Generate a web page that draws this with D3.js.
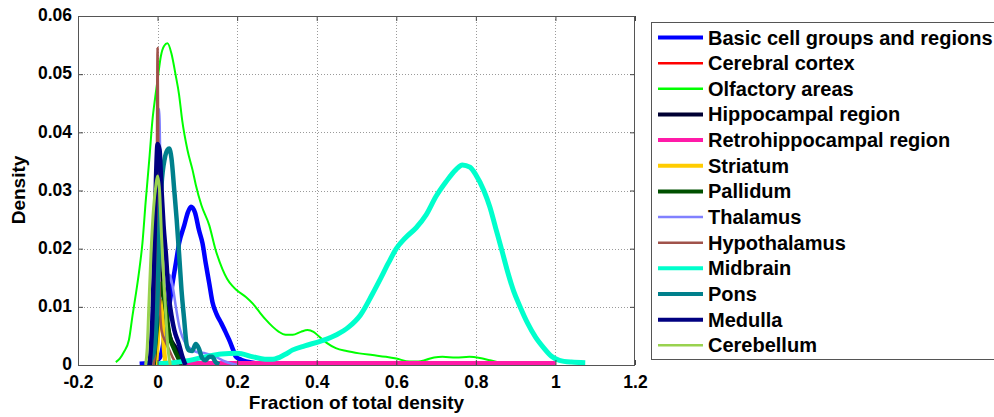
<!DOCTYPE html>
<html><head><meta charset="utf-8">
<script src="https://cdn.jsdelivr.net/npm/d3@7"></script>
<style>
html,body{margin:0;padding:0;background:#fff;}
text{font-family:"Liberation Sans",Arial,sans-serif;font-weight:bold;fill:#000;}
</style></head>
<body><svg id="c" width="994" height="417"></svg>
<script>
// ---- data ----
const seriesNames = ["Basic cell groups and regions","Cerebral cortex","Olfactory areas","Hippocampal region","Retrohippocampal region","Striatum","Pallidum","Thalamus","Hypothalamus","Midbrain","Pons","Medulla","Cerebellum"];
const seriesColors = ["#0000ff","#ff0000","#00ff00","#000033","#ff1aa8","#ffcc00","#005000","#8080ff","#a0524a","#00ffcc","#00808c","#000080","#99d24f"];
const seriesWidths = [4.5,2,2,4.5,4.5,4.5,4.5,2.5,2.5,5,4.5,4.5,3];

const xTicks = [-0.2,0,0.2,0.4,0.6,0.8,1,1.2];
const yTicks = [0,0.01,0.02,0.03,0.04,0.05,0.06];

const basicX = [-0.045,-0.025,-0.01,0.0,0.008,0.014,0.021,0.03,0.037,0.046,0.054,0.067,0.076,0.084,0.094,0.104,0.113,0.121,0.13,0.138,0.148,0.16,0.17,0.18,0.19,0.197,0.21,0.222,0.25,0.28,0.32];
const basicY = [0.0002,0.0003,0.0004,0.0008,0.0016,0.0035,0.0066,0.0105,0.0138,0.0175,0.0209,0.0240,0.0262,0.0272,0.0262,0.0232,0.0209,0.0175,0.0140,0.0108,0.0088,0.0072,0.0058,0.0043,0.0026,0.0014,0.0009,0.0006,0.0003,0.0002,0.0001];

const cortexX = [0.0,0.2,0.4,0.6,0.8,1.0];
const cortexY = [0.0003,0.0003,0.0003,0.0003,0.0003,0.0003];

const olfX = [-0.105,-0.095,-0.085,-0.072,-0.063,-0.055,-0.047,-0.038,-0.03,-0.02,-0.013,-0.006,0.0,0.008,0.016,0.025,0.035,0.045,0.054,0.062,0.075,0.088,0.096,0.11,0.13,0.145,0.163,0.175,0.188,0.2,0.222,0.24,0.255,0.272,0.289,0.305,0.322,0.34,0.36,0.377,0.392,0.406,0.425,0.448,0.475,0.507,0.54,0.574,0.6,0.633,0.655,0.675,0.695,0.716,0.75,0.784,0.81,0.835,0.86,0.875];
const olfY = [0.0005,0.0011,0.0022,0.0043,0.0085,0.0120,0.0158,0.021,0.028,0.036,0.042,0.046,0.049,0.053,0.0548,0.0553,0.0535,0.050,0.0465,0.042,0.037,0.0335,0.031,0.0275,0.0240,0.020,0.0165,0.0148,0.0136,0.0128,0.0117,0.0105,0.0092,0.0078,0.0066,0.0057,0.0052,0.0052,0.0057,0.0060,0.0057,0.0049,0.0038,0.0029,0.0024,0.0020,0.0017,0.0014,0.0011,0.0006,0.0006,0.0009,0.0013,0.0014,0.0013,0.0014,0.0012,0.0008,0.0004,0.0001];

const hippoX = [-0.015,-0.006,0.0,0.003,0.007,0.012,0.02,0.03,0.045,0.06,0.07];
const hippoY = [0.0,0.010,0.020,0.025,0.022,0.016,0.009,0.005,0.003,0.001,0.0];

const retroX = [0.0,0.2,0.4,0.6,0.8,1.0];
const retroY = [0.0003,0.0003,0.0003,0.0003,0.0003,0.0003];

const striX = [-0.004,0.0,0.004,0.008,0.012,0.016,0.02];
const striY = [0.0,0.004,0.009,0.011,0.008,0.003,0.0];

const palliX = [-0.01,0.0,0.01,0.02,0.03,0.04,0.05,0.06];
const palliY = [0.0,0.008,0.014,0.010,0.005,0.003,0.0015,0.0];

const thalX = [-0.01,-0.004,0.0,0.004,0.008,0.014,0.022,0.03,0.038,0.046,0.055,0.062,0.075,0.087,0.1,0.121,0.146,0.17,0.2];
const thalY = [0.0,0.010,0.035,0.044,0.030,0.016,0.0135,0.0155,0.0135,0.010,0.0065,0.0049,0.0033,0.0026,0.0022,0.0020,0.0014,0.0006,0.0];

const hypoX = [-0.01,-0.005,-0.002,0.0,0.002,0.005,0.01,0.02,0.03,0.04,0.05];
const hypoY = [0.0,0.004,0.030,0.0545,0.035,0.012,0.006,0.004,0.0025,0.001,0.0];

const midX = [0.0,0.04,0.08,0.12,0.16,0.2,0.24,0.27,0.29,0.32,0.34,0.37,0.41,0.45,0.48,0.51,0.54,0.56,0.58,0.6,0.625,0.65,0.675,0.7,0.725,0.75,0.766,0.785,0.8,0.82,0.835,0.85,0.865,0.88,0.895,0.91,0.93,0.95,0.97,0.99,1.01,1.04,1.075];
const midY = [0.0002,0.0004,0.0008,0.0014,0.0019,0.0020,0.0014,0.0010,0.0010,0.0018,0.0026,0.0033,0.0041,0.0052,0.0065,0.0086,0.0122,0.0148,0.0175,0.0200,0.0220,0.0236,0.0258,0.0290,0.0315,0.0336,0.0344,0.0340,0.0327,0.0300,0.0272,0.0235,0.0198,0.0160,0.0127,0.0102,0.0072,0.0048,0.0030,0.0015,0.0008,0.0005,0.0004];

const ponsX = [-0.025,-0.01,-0.004,0.0,0.005,0.01,0.018,0.025,0.029,0.035,0.042,0.048,0.054,0.06,0.067,0.073,0.079,0.087,0.096,0.104,0.112,0.12,0.13,0.137,0.146,0.155];
const ponsY = [0.0002,0.002,0.006,0.012,0.024,0.031,0.0355,0.037,0.0372,0.0355,0.030,0.025,0.0192,0.013,0.0077,0.0035,0.0025,0.0024,0.0036,0.0028,0.0012,0.0008,0.0014,0.0014,0.0005,0.0001];

const medX = [-0.02,-0.013,-0.008,-0.004,0.0,0.005,0.01,0.015,0.021,0.028,0.035,0.042,0.054,0.062,0.07];
const medY = [0.0,0.008,0.020,0.032,0.038,0.037,0.030,0.024,0.019,0.012,0.0085,0.006,0.0035,0.0015,0.0];

const cereX = [-0.03,-0.026,-0.022,-0.016,-0.01,-0.004,0.0,0.005,0.01,0.016,0.021,0.026,0.032];
const cereY = [0.0,0.003,0.010,0.020,0.027,0.031,0.0325,0.030,0.022,0.014,0.0083,0.003,0.0];

const seriesX = [basicX,cortexX,olfX,hippoX,retroX,striX,palliX,thalX,hypoX,midX,ponsX,medX,cereX];
const seriesY = [basicY,cortexY,olfY,hippoY,retroY,striY,palliY,thalY,hypoY,midY,ponsY,medY,cereY];

// ---- layout ----
const L = 78, R = 635, T = 16, B = 365;
const svg = d3.select("#c");
const x = d3.scaleLinear().domain([-0.2,1.2]).range([L,R]);
const y = d3.scaleLinear().domain([0,0.06]).range([B,T]);

svg.append("defs").append("clipPath").attr("id","clip")
  .append("rect").attr("x",L).attr("y",T).attr("width",R-L).attr("height",B-T);

// grid
const grid = svg.append("g");
grid.selectAll(".gx").data(xTicks.slice(1,-1)).join("line")
  .attr("x1",d=>Math.round(x(d))+0.5).attr("x2",d=>Math.round(x(d))+0.5)
  .attr("y1",T).attr("y2",B).attr("stroke","#9a9a9a").attr("stroke-width",1).attr("stroke-dasharray","1,2");
grid.selectAll(".gy").data(yTicks.slice(1,-1)).join("line")
  .attr("y1",d=>Math.round(y(d))+0.5).attr("y2",d=>Math.round(y(d))+0.5)
  .attr("x1",L).attr("x2",R).attr("stroke","#9a9a9a").attr("stroke-width",1).attr("stroke-dasharray","1,2");

// curves
const line = d3.line().x(d=>x(d[0])).y(d=>y(d[1])).curve(d3.curveMonotoneX);
const plot = svg.append("g").attr("clip-path","url(#clip)");
seriesNames.forEach((n,i)=>{
  const pts = seriesX[i].map((v,j)=>[v,seriesY[i][j]]);
  plot.append("path").datum(pts).attr("d",line).attr("fill","none")
    .attr("stroke",seriesColors[i]).attr("stroke-width",seriesWidths[i])
    .attr("stroke-linejoin","round").attr("stroke-linecap","butt");
});

// axes
const fmtX = d => String(d);
const fmtY = d => d===0 ? "0" : d3.format(".2f")(d);
const ax = svg.append("g");
ax.append("g").attr("transform",`translate(0,${B})`)
  .call(d3.axisBottom(x).tickValues(xTicks).tickFormat(fmtX).tickSizeInner(-5).tickSizeOuter(0).tickPadding(11))
  .call(g=>g.selectAll("text").attr("font-size","17.5px").attr("font-family","Liberation Sans, Arial, sans-serif").attr("font-weight","bold").attr("fill","#000"));
ax.append("g").attr("transform",`translate(${L},0)`)
  .call(d3.axisLeft(y).tickValues(yTicks).tickFormat(fmtY).tickSizeInner(-5).tickSizeOuter(0).tickPadding(6))
  .call(g=>g.selectAll("text").attr("font-size","17.5px").attr("dy","0.27em").attr("font-family","Liberation Sans, Arial, sans-serif").attr("font-weight","bold").attr("fill","#000"));
ax.append("g").attr("transform",`translate(0,${T})`)
  .call(d3.axisTop(x).tickValues(xTicks).tickFormat("").tickSizeInner(-5).tickSizeOuter(0));
ax.append("g").attr("transform",`translate(${R},0)`)
  .call(d3.axisRight(y).tickValues(yTicks).tickFormat("").tickSizeInner(-5).tickSizeOuter(0));
ax.selectAll(".domain").remove();
ax.selectAll(".tick line").attr("stroke","#444");
svg.append("rect").attr("x",L+0.5).attr("y",T+0.5).attr("width",R-L-1).attr("height",B-T)
  .attr("fill","none").attr("stroke","#555").attr("stroke-width",1);

// titles
svg.append("text").attr("x",(L+R)/2).attr("y",409).attr("text-anchor","middle").attr("font-size","19px").text("Fraction of total density");
svg.append("text").attr("transform","translate(25,190) rotate(-90)").attr("text-anchor","middle").attr("font-size","19px").text("Density");

// legend
const lg = svg.append("g");
lg.append("rect").attr("x",651.5).attr("y",22.5).attr("width",360).attr("height",337)
  .attr("fill","#fff").attr("stroke","#555").attr("stroke-width",1);
seriesNames.forEach((n,i)=>{
  const cy = 37.5 + i*25.65;
  lg.append("line").attr("x1",658).attr("x2",703).attr("y1",cy).attr("y2",cy)
    .attr("stroke",seriesColors[i]).attr("stroke-width",seriesWidths[i]>=4?4:2.5);
  lg.append("text").attr("x",708).attr("y",cy+7).attr("font-size","20px").text(n);
});
</script></body></html>
